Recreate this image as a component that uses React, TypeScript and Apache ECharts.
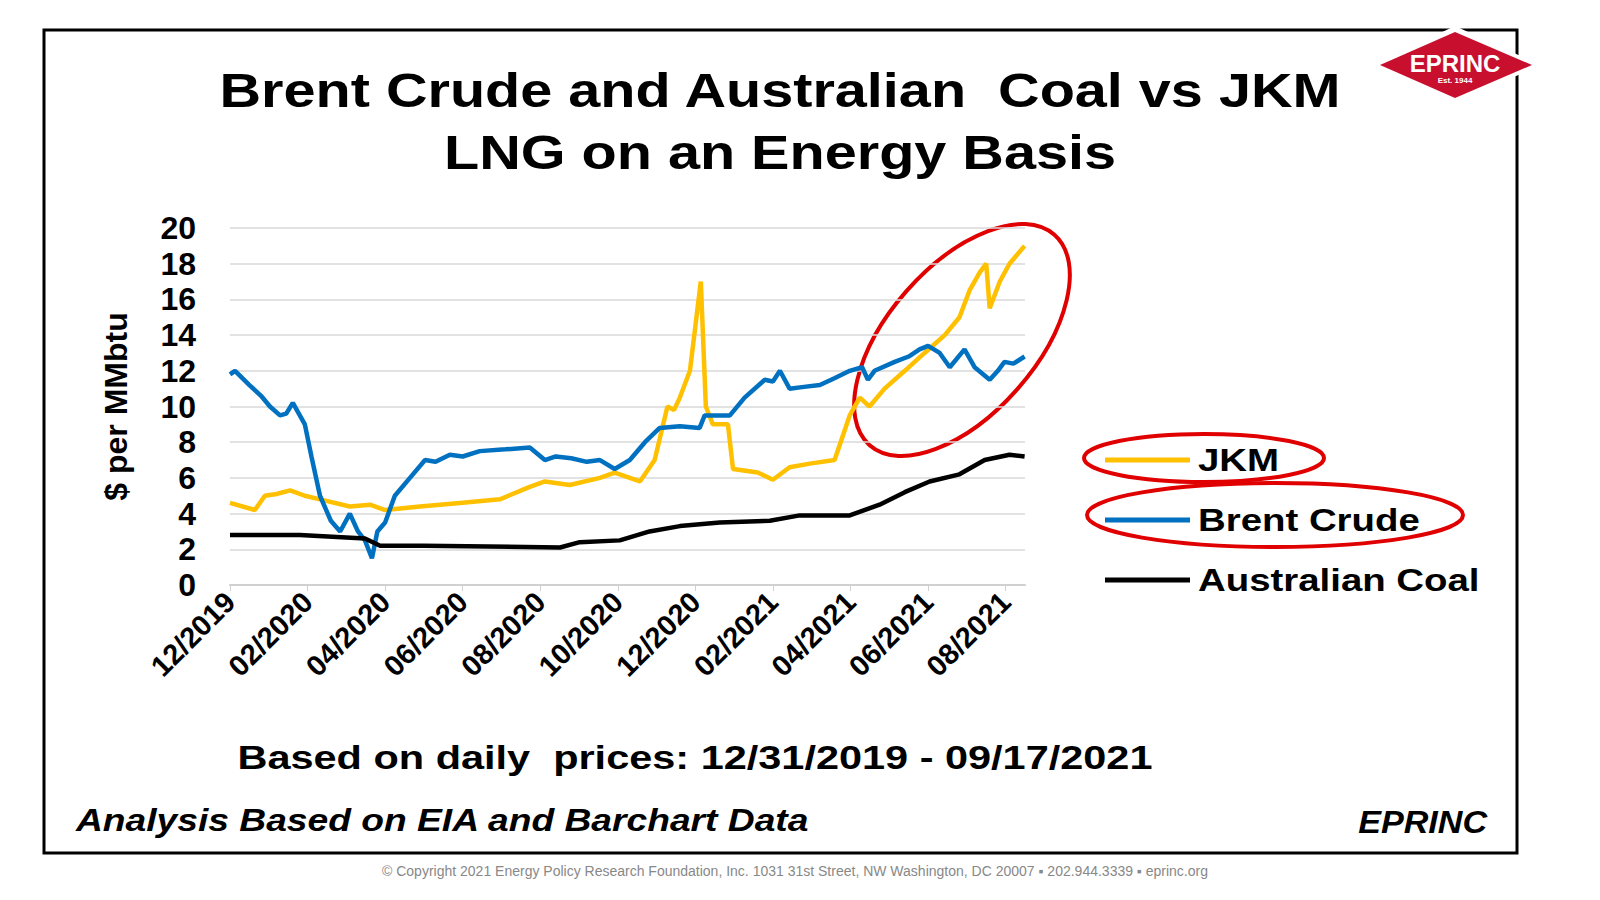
import React, { useEffect, useRef } from "react";
import * as echarts from "echarts";

const monthLabels = ["12/2019","02/2020","04/2020","06/2020","08/2020","10/2020","12/2020","02/2021","04/2021","06/2021","08/2021"];
const brent: number[][] = [[0,11.8],[0.13,12.0],[0.5,11.2],[0.8,10.6],[1.03,10.0],[1.29,9.5],[1.45,9.6],[1.62,10.2],[1.93,9.0],[2.1,7.2],[2.32,5.0],[2.6,3.6],[2.84,3.0],[3.09,4.0],[3.3,3.0],[3.48,2.5],[3.66,1.5],[3.8,3.0],[4.0,3.5],[4.25,5.0],[4.64,6.0],[5.03,7.0],[5.3,6.9],[5.67,7.3],[6.0,7.2],[6.44,7.5],[7.1,7.6],[7.73,7.7],[8.12,7.0],[8.4,7.2],[8.8,7.1],[9.2,6.9],[9.54,7.0],[9.92,6.5],[10.31,7.0],[10.7,8.0],[11.08,8.8],[11.6,8.9],[12.11,8.8],[12.24,9.5],[12.89,9.5],[13.27,10.5],[13.79,11.5],[14.0,11.4],[14.18,12.0],[14.43,11.0],[14.8,11.1],[15.21,11.2],[15.6,11.6],[15.98,12.0],[16.3,12.2],[16.45,11.5],[16.62,12.0],[17.14,12.5],[17.5,12.8],[17.78,13.2],[18.0,13.4],[18.3,13.0],[18.56,12.2],[18.94,13.2],[19.2,12.2],[19.59,11.5],[19.8,12.0],[19.97,12.5],[20.2,12.4],[20.49,12.8]];
const jkm: number[][] = [[0,4.6],[0.64,4.2],[0.9,5.0],[1.2,5.1],[1.55,5.3],[1.93,5.0],[2.32,4.8],[3.09,4.4],[3.61,4.5],[4.0,4.2],[4.9,4.4],[5.93,4.6],[6.96,4.8],[7.73,5.5],[8.12,5.8],[8.76,5.6],[9.54,6.0],[9.92,6.3],[10.57,5.8],[10.95,7.0],[11.28,10.0],[11.45,9.8],[11.6,10.5],[11.86,12.0],[12.0,14.5],[12.14,17.0],[12.27,10.0],[12.45,9.0],[12.84,9.0],[12.97,6.5],[13.61,6.3],[14.0,5.9],[14.43,6.6],[14.95,6.8],[15.59,7.0],[15.98,9.5],[16.24,10.5],[16.49,10.0],[16.88,11.0],[17.4,12.0],[17.91,13.0],[18.43,14.0],[18.81,15.0],[19.07,16.5],[19.33,17.5],[19.5,18.0],[19.59,15.5],[19.85,17.0],[20.1,18.0],[20.49,19.0]];
const coal: number[][] = [[0,2.8],[1.8,2.8],[3.48,2.6],[3.87,2.2],[5,2.2],[8.51,2.1],[9.02,2.4],[10.05,2.5],[10.82,3.0],[11.6,3.3],[12.63,3.5],[13.92,3.6],[14.69,3.9],[15.98,3.9],[16.75,4.5],[17.4,5.2],[18.04,5.8],[18.81,6.2],[19.46,7.0],[20.1,7.3],[20.49,7.2]];

const F = "Arial, 'Liberation Sans', sans-serif";

export default function App() {
  const ref = useRef<HTMLDivElement>(null);
  useEffect(() => {
    const chart = echarts.init(ref.current!, null, { renderer: "svg" });
    const line = (name: string, data: number[][], color: string) => ({
      type: "line", name, data, showSymbol: false, symbol: "none",
      lineStyle: { color, width: 4.5 }, z: name === "JKM" ? 1 : 2,
    });
    const txt = (x: number, y: number, text: string, font: string, align = "left", sx = 1.2, fill = "#000") => ({
      type: "text", x, y, scaleX: sx, style: { text, font, fill, textAlign: align, textVerticalAlign: "middle" },
    });
    const legendItem = (y: number, color: string, text: string) => [
      { type: "line", shape: { x1: 1105, y1: y, x2: 1190, y2: y }, style: { stroke: color, lineWidth: 5 } },
      txt(1198, y, text, `bold 32px ${F}`),
    ];
    chart.setOption({
      animation: false,
      grid: { left: 230, right: 575, top: 228, bottom: 315 },
      xAxis: {
        type: "value", min: 0, max: 20.5, interval: 2,
        axisLine: { show: true, lineStyle: { color: "#d0d0d0", width: 2 } },
        axisTick: { show: true, length: 6, lineStyle: { color: "#d0d0d0" } },
        splitLine: { show: false },
        axisLabel: {
          rotate: 45, showMaxLabel: false, margin: 12,
          formatter: (v: number) => monthLabels[Math.round(v / 2)] ?? "",
          fontFamily: F, fontWeight: "bold", fontSize: 29, color: "#000",
        },
      },
      yAxis: {
        type: "value", min: 0, max: 20, interval: 2,
        name: "$ per MMbtu", nameLocation: "middle", nameGap: 98,
        nameTextStyle: { fontFamily: F, fontWeight: "bold", fontSize: 32, color: "#000" },
        axisLine: { show: false }, axisTick: { show: false },
        splitLine: { lineStyle: { color: "#d9d9d9", width: 1.5 } },
        axisLabel: { fontFamily: F, fontWeight: "bold", fontSize: 32, color: "#000", margin: 34 },
      },
      series: [line("JKM", jkm, "#FFC000"), line("Brent Crude", brent, "#0070C0"), line("Australian Coal", coal, "#000000")],
      graphic: [
        { type: "rect", shape: { x: 44, y: 30, width: 1473, height: 823 }, style: { fill: "none", stroke: "#000", lineWidth: 3 } },
        { type: "polygon", shape: { points: [[1372, 65], [1455, 26], [1540, 65], [1455, 104]] }, style: { fill: "#fff" } },
        { type: "polygon", shape: { points: [[1380, 65], [1455, 32], [1532, 65], [1455, 98]] }, style: { fill: "#C8102E" } },
        { type: "text", x: 1455, y: 63, style: { text: "EPRINC", font: `bold 24px ${F}`, fill: "#fff", textAlign: "center", textVerticalAlign: "middle" } },
        { type: "text", x: 1455, y: 80, style: { text: "Est. 1944", font: `bold 8px ${F}`, fill: "#fff", textAlign: "center", textVerticalAlign: "middle" } },
        txt(780, 90, "Brent Crude and Australian  Coal vs JKM", `bold 48px ${F}`, "center"),
        txt(780, 152, "LNG on an Energy Basis", `bold 48px ${F}`, "center"),
        ...legendItem(460, "#FFC000", "JKM"),
        ...legendItem(520, "#0070C0", "Brent Crude"),
        ...legendItem(580, "#000", "Australian Coal"),
        { type: "ellipse", x: 1204, y: 458, shape: { cx: 0, cy: 0, rx: 120, ry: 24 }, style: { fill: "none", stroke: "#E00000", lineWidth: 4 } },
        { type: "ellipse", x: 1275, y: 515, shape: { cx: 0, cy: 0, rx: 188, ry: 32 }, style: { fill: "none", stroke: "#E00000", lineWidth: 4 } },
        { type: "ellipse", x: 962, y: 340, rotation: 0.85, shape: { cx: 0, cy: 0, rx: 140, ry: 74 }, style: { fill: "none", stroke: "#E00000", lineWidth: 4 } },
        txt(695, 757, "Based on daily  prices: 12/31/2019 - 09/17/2021", `bold 34px ${F}`, "center", 1.22),
        txt(76, 820, "Analysis Based on EIA and Barchart Data", `italic bold 31px ${F}`, "left", 1.2),
        txt(1487, 823, "EPRINC", `italic bold 31px ${F}`, "right", 1.1),
        txt(795, 871, "© Copyright 2021 Energy Policy Research Foundation, Inc. 1031 31st Street, NW Washington, DC 20007 ▪ 202.944.3339 ▪ eprinc.org", `14px ${F}`, "center", 1, "#888"),
      ],
    });
    return () => chart.dispose();
  }, []);
  return <div ref={ref} style={{ position: "fixed", left: 0, top: 0, width: 1600, height: 900, background: "#fff" }} />;
}
